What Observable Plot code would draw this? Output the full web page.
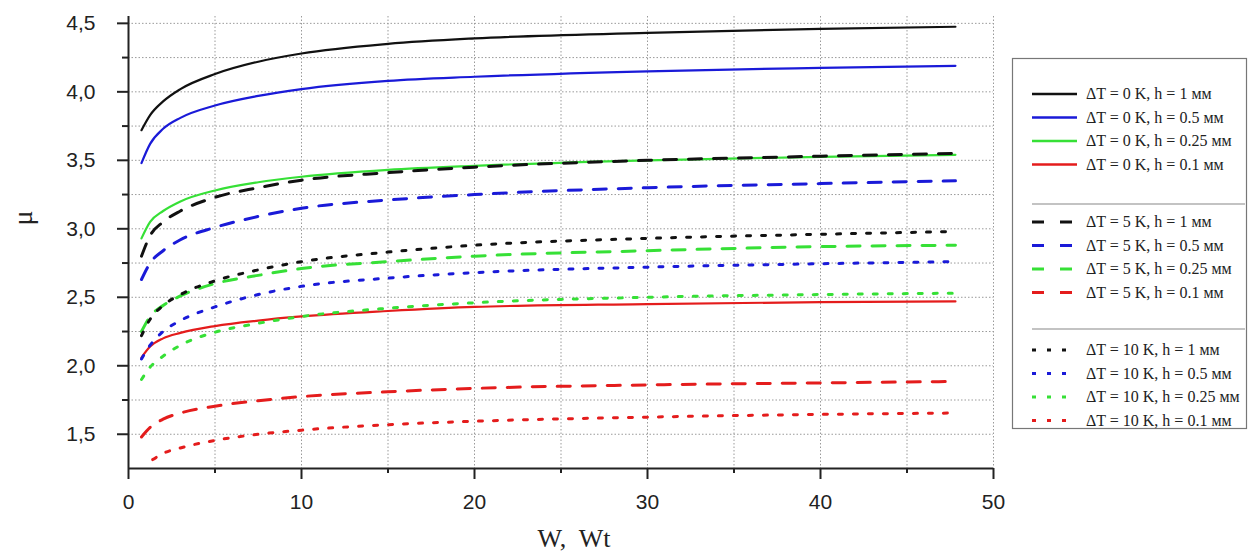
<!DOCTYPE html>
<html><head><meta charset="utf-8">
<script src="https://cdn.jsdelivr.net/npm/d3@7"></script>
<script src="https://cdn.jsdelivr.net/npm/@observablehq/plot@0.6"></script>
<style>
body{margin:0;background:#fff;}
#wrap{position:relative;width:1251px;height:555px;overflow:hidden;background:#fff;}
#wrap svg{position:absolute;left:0;top:0;}
</style></head><body><div id="wrap"></div>
<script>
// ---- data ----
const W = [0.75, 1.25, 2, 3, 5, 7.5, 10, 15, 20, 30, 40, 47.8];
const W_LATE = [1.4, 2, 3, 5, 7.5, 10, 15, 20, 30, 40, 47.8];

const MU_0K_1    = [3.72, 3.83, 3.93, 4.02, 4.13, 4.22, 4.28, 4.35, 4.39, 4.43, 4.46, 4.475];
const MU_0K_05   = [3.48, 3.62, 3.73, 3.81, 3.90, 3.97, 4.02, 4.08, 4.11, 4.15, 4.175, 4.19];
const MU_0K_025  = [2.93, 3.05, 3.13, 3.20, 3.28, 3.34, 3.38, 3.43, 3.46, 3.50, 3.525, 3.54];
const MU_0K_01   = [2.06, 2.14, 2.20, 2.24, 2.29, 2.33, 2.36, 2.40, 2.43, 2.45, 2.465, 2.47];

const MU_5K_1    = [2.80, 2.95, 3.05, 3.13, 3.23, 3.30, 3.355, 3.41, 3.45, 3.50, 3.53, 3.55];
const MU_5K_05   = [2.63, 2.75, 2.84, 2.92, 3.01, 3.09, 3.15, 3.21, 3.25, 3.30, 3.33, 3.35];
const MU_5K_025  = [2.25, 2.36, 2.44, 2.51, 2.60, 2.66, 2.71, 2.76, 2.80, 2.84, 2.87, 2.88];
const MU_5K_01   = [1.48, 1.55, 1.61, 1.655, 1.705, 1.745, 1.775, 1.81, 1.835, 1.86, 1.875, 1.885];

const MU_10K_1   = [2.22, 2.34, 2.44, 2.52, 2.62, 2.70, 2.76, 2.83, 2.88, 2.93, 2.96, 2.98];
const MU_10K_05  = [2.05, 2.15, 2.25, 2.33, 2.43, 2.52, 2.58, 2.64, 2.68, 2.72, 2.745, 2.76];
const MU_10K_025 = [1.90, 1.99, 2.07, 2.15, 2.245, 2.31, 2.36, 2.42, 2.46, 2.50, 2.52, 2.53];
const MU_10K_01  = [1.315, 1.36, 1.40, 1.455, 1.50, 1.53, 1.57, 1.595, 1.625, 1.645, 1.655];

const H_VALUES = ["1", "0.5", "0.25", "0.1"];

const SERIES = [
  {dT: 0, h: "1", w: W, mu: MU_0K_1},
  {dT: 0, h: "0.5", w: W, mu: MU_0K_05},
  {dT: 0, h: "0.25", w: W, mu: MU_0K_025},
  {dT: 0, h: "0.1", w: W, mu: MU_0K_01},
  {dT: 5, h: "1", w: W, mu: MU_5K_1},
  {dT: 5, h: "0.5", w: W, mu: MU_5K_05},
  {dT: 5, h: "0.25", w: W, mu: MU_5K_025},
  {dT: 5, h: "0.1", w: W, mu: MU_5K_01},
  {dT: 10, h: "1", w: W, mu: MU_10K_1},
  {dT: 10, h: "0.5", w: W, mu: MU_10K_05},
  {dT: 10, h: "0.25", w: W, mu: MU_10K_025},
  {dT: 10, h: "0.1", w: W_LATE, mu: MU_10K_01}
];

const X_TICKS = [0, 10, 20, 30, 40, 50];
const X_MINOR = [5, 15, 25, 35, 45];
const Y_TICKS = [1.5, 2.0, 2.5, 3.0, 3.5, 4.0, 4.5];
const Y_TICK_LABELS = ["1,5", "2,0", "2,5", "3,0", "3,5", "4,0", "4,5"];
const Y_MINOR = [1.75, 2.25, 2.75, 3.25, 3.75, 4.25];
const GRID_X = [5, 10, 15, 20, 25, 30, 35, 40, 45, 50];
const GRID_Y = [1.5, 1.75, 2.0, 2.25, 2.5, 2.75, 3.0, 3.25, 3.5, 3.75, 4.0, 4.25, 4.5];

const X_LABEL = "W,\u00a0 Wt";
const Y_LABEL = "μ";

// ---- styles ----
const COLOR = {"1": "#111111", "0.5": "#1a1ad8", "0.25": "#36e036", "0.1": "#e41c1c"};
const DASH = {0: null, 5: "13,12", 10: "4,11"};
const WIDTH = {0: 2.2, 5: 3, 10: 3};

const lineMarks = SERIES.map(s => {
  const rows = s.w.map((w, i) => ({W: w, mu: s.mu[i]}));
  return Plot.line(rows, {
    x: "W", y: "mu", curve: "monotone-x",
    stroke: COLOR[s.h], strokeWidth: WIDTH[s.dT],
    strokeDasharray: DASH[s.dT] || undefined
  });
});

const chart = Plot.plot({
  width: 1010, height: 555,
  marginLeft: 128, marginRight: 17, marginTop: 16, marginBottom: 87,
  x: {domain: [0, 50], label: null},
  y: {domain: [1.25, 4.55], label: null},
  style: {background: "white", fontFamily: "'Liberation Sans', Arial, sans-serif", color: "#222"},
  marks: [
    Plot.ruleY(GRID_Y, {stroke: "#9a9a9a", strokeDasharray: "1.5,2", strokeWidth: 1}),
    Plot.ruleX(GRID_X, {stroke: "#9a9a9a", strokeDasharray: "1.5,2", strokeWidth: 1}),
    ...lineMarks,
    Plot.axisX(X_TICKS, {tickSize: 11, tickPadding: 15, fontSize: 21, strokeWidth: 2, tickFormat: d => String(d), label: null}),
    Plot.axisX(X_MINOR, {tickSize: 5, strokeWidth: 2, tickFormat: () => "", label: null}),
    Plot.axisY(Y_TICKS, {tickSize: 11, tickPadding: 22, fontSize: 21, strokeWidth: 2,
      tickFormat: d => Y_TICK_LABELS[Y_TICKS.indexOf(d)], label: null}),
    Plot.axisY(Y_MINOR, {tickSize: 6, strokeWidth: 2, tickFormat: () => "", label: null}),
    Plot.ruleX([0], {stroke: "#222", strokeWidth: 2}),
    Plot.ruleY([1.25], {stroke: "#222", strokeWidth: 2}),
    Plot.text([X_LABEL], {text: d => d, frameAnchor: "bottom", dx: 13, dy: 78, lineAnchor: "bottom",
      fontSize: 26, fontFamily: "'Liberation Serif', 'Times New Roman', serif", fill: "#222"}),
    Plot.text([Y_LABEL], {text: d => d, frameAnchor: "left", dx: -105, dy: -17, rotate: -90,
      fontSize: 28, fontFamily: "'Liberation Serif', 'Times New Roman', serif", fill: "#222"})
  ]
});

const wrap = document.getElementById("wrap");
wrap.appendChild(chart);

// ---- legend ----
const lg = d3.create("svg").attr("width", 1251).attr("height", 555)
  .style("background", "transparent");
lg.append("rect").attr("x", 1012.5).attr("y", 58.5).attr("width", 234).attr("height", 370)
  .attr("fill", "white").attr("stroke", "#777").attr("stroke-width", 1.2);
const GROUP_TOP = {0: 94, 5: 222, 10: 350};
const ROW_STEP = 23.5;
const LEG_DASH = {0: null, 5: "12,16", 10: "4,11"};
const LEG_END = {0: 1077, 5: 1072, 10: 1067};
SERIES.forEach(s => {
  const y = GROUP_TOP[s.dT] + ROW_STEP * H_VALUES.indexOf(s.h);
  const ln = lg.append("line").attr("x1", 1032).attr("x2", LEG_END[s.dT]).attr("y1", y).attr("y2", y)
    .attr("stroke", COLOR[s.h]).attr("stroke-width", s.dT === 0 ? 2.5 : 3);
  if (LEG_DASH[s.dT]) ln.attr("stroke-dasharray", LEG_DASH[s.dT]);
  lg.append("text").attr("x", 1086).attr("y", y + 5)
    .attr("font-family", "'Liberation Serif', 'Times New Roman', serif").attr("font-size", 16)
    .attr("fill", "#222")
    .text(`ΔT = ${s.dT} K, h = ${s.h} мм`);
});
[204, 329].forEach(y => {
  lg.append("line").attr("x1", 1032).attr("x2", 1245).attr("y1", y).attr("y2", y)
    .attr("stroke", "#888").attr("stroke-width", 1.2);
});
wrap.appendChild(lg.node());
</script></body></html>
